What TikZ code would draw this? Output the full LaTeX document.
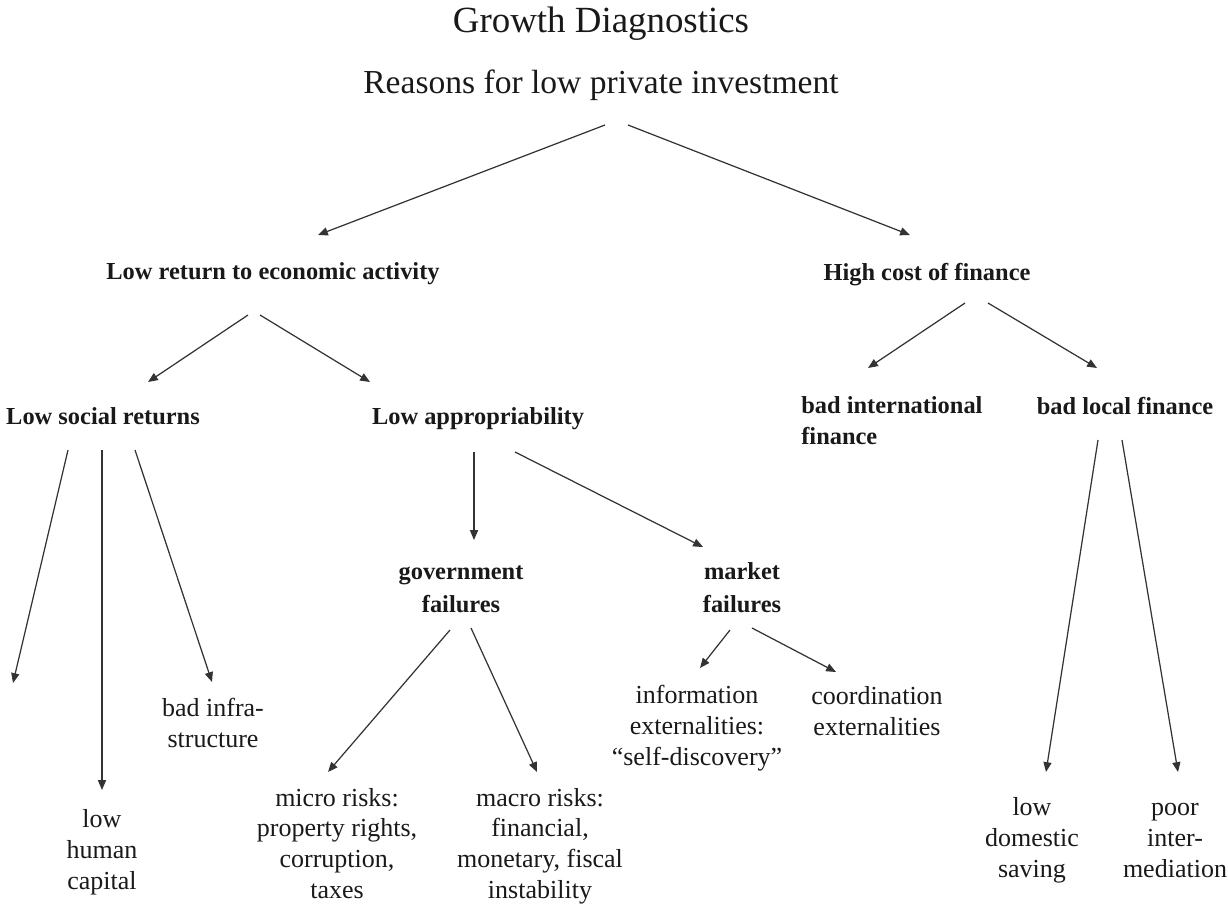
\documentclass[tikz,border=0pt]{standalone}
\usepackage{fontspec}
\setmainfont{Liberation Serif}
\usetikzlibrary{arrows.meta,calc}
\begin{document}
\begin{tikzpicture}[x=0.02cm,y=-0.02cm,
  arr/.style={draw=black!80, line width=0.7pt, -{Triangle[length=5.6pt,width=4.6pt]}},
  lbl/.style={inner sep=0pt, anchor=base, align=center, text=black!90},
  ttltext/.style={lbl, font=\fontsize{21}{25}\selectfont},
  subtext/.style={lbl, font=\fontsize{19.1}{23}\selectfont},
  boldtext/.style={lbl, font=\fontsize{13.9}{17.2}\selectfont\bfseries},
  plaintext/.style={lbl, font=\fontsize{14.8}{17.4}\selectfont}]
\useasboundingbox (0,0) rectangle (1228,906);

% titles
\node[ttltext] (title) at (601,32) {Growth Diagnostics};
\node[subtext] (sub) at (601,93) {Reasons for low private investment};

% level 1
\node[boldtext] (lre) at (273,279) {Low return to economic activity};
\node[boldtext] (hcf) at (927,280) {High cost of finance};

% level 2 (base anchor of a multi-line node = its last line)
\node[boldtext] (lsr) at (103,424) {Low social returns};
\node[boldtext] (lap) at (478,424) {Low appropriability};
\node[boldtext, align=left, anchor=base west] (bif) at (801,444) {bad international\\finance};
\node[boldtext] (blf) at (1125,414) {bad local finance};

% level 3
\node[boldtext, font=\fontsize{13.9}{18.7}\selectfont\bfseries] (gf) at (461,612) {government\\failures};
\node[boldtext, font=\fontsize{13.9}{18.7}\selectfont\bfseries] (mf) at (742,612) {market\\failures};

% leaves
\coordinate (lsrx) at (13,683);
\node[plaintext] (bi) at (213,747) {bad infra-\\structure};
\node[plaintext] (lhc) at (102,889) {low\\human\\capital};
\node[plaintext] (mic) at (337,898) {micro risks:\\property rights,\\corruption,\\taxes};
\node[plaintext] (mac) at (540,898) {macro risks:\\financial,\\monetary, fiscal\\instability};
\node[plaintext] (inf) at (697,765) {information\\externalities:\\“self-discovery”};
\node[plaintext] (coo) at (877,735) {coordination\\externalities};
\node[plaintext] (lds) at (1032,877) {low\\domestic\\saving};
\node[plaintext] (pim) at (1175,877) {poor\\inter-\\mediation};

% connectors
\draw[arr] ($(sub.base)+(4,32)$) -- ($(lre.base)+(45,-44)$);
\draw[arr] ($(sub.base)+(27,32)$) -- ($(hcf.base)+(-17,-45)$);
\draw[arr] ($(lre.base)+(-25,36)$) -- ($(lsr.base)+(45,-42)$);
\draw[arr] ($(lre.base)+(-13,36)$) -- ($(lap.base)+(-108,-42)$);
\draw[arr] ($(hcf.base)+(38,23)$) -- ($(bif.base west)+(67,-76)$);
\draw[arr] ($(hcf.base)+(61,23)$) -- ($(blf.base)+(-28,-46)$);
\draw[arr] ($(lsr.base)+(-35,26)$) -- (lsrx);
\draw[arr] ($(lsr.base)+(-1,26)$) -- ($(lhc.base)+(0,-99)$);
\draw[arr] ($(lsr.base)+(32,26)$) -- ($(bi.base)+(-1,-65)$);
\draw[arr] ($(lap.base)+(-4,28)$) -- ($(gf.base)+(13,-72)$);
\draw[arr] ($(lap.base)+(37,28)$) -- ($(mf.base)+(-39,-65)$);
\draw[arr] ($(gf.base)+(-11,18)$) -- ($(mic.base)+(-9,-126)$);
\draw[arr] ($(gf.base)+(10,16)$) -- ($(mac.base)+(-3,-126)$);
\draw[arr] ($(mf.base)+(-12,18)$) -- ($(inf.base)+(3,-97)$);
\draw[arr] ($(mf.base)+(10,16)$) -- ($(coo.base)+(-41,-63)$);
\draw[arr] ($(blf.base)+(-27,26)$) -- ($(lds.base)+(14,-105)$);
\draw[arr] ($(blf.base)+(-3,26)$) -- ($(pim.base)+(3,-105)$);
\end{tikzpicture}
\end{document}
